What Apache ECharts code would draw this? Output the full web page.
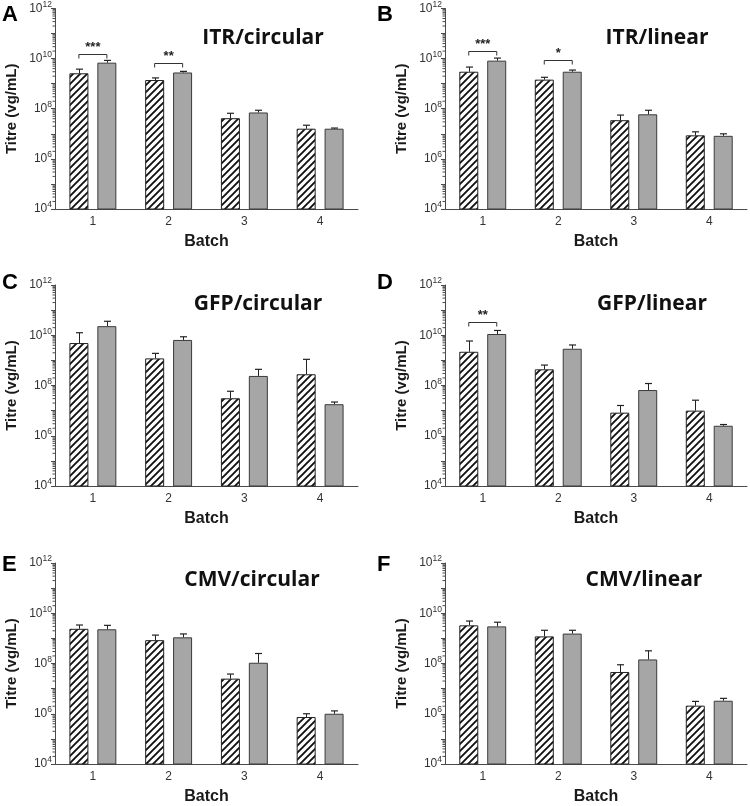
<!DOCTYPE html>
<html><head><meta charset="utf-8">
<script src="https://cdn.jsdelivr.net/npm/echarts@6/dist/echarts.min.js"></script>
<style>html,body{margin:0;padding:0;background:#fff}#c{width:750px;height:806px}</style>
</head><body><div id="c"></div>
<script>
// ---------- data ----------
const batches = ['1', '2', '3', '4'];
const panelLetters = ['A', 'B', 'C', 'D', 'E', 'F'];
const panelTitles = ['ITR/circular', 'ITR/linear', 'GFP/circular', 'GFP/linear', 'CMV/circular', 'CMV/linear'];
// hatched (white, striped) bars: mean titre per batch, one row per panel A..F
const hatchedMean = [
  [2.6e9, 1.4e9, 4.2e7, 1.6e7],
  [3.0e9, 1.45e9, 3.5e7, 8.7e6],
  [4.9e9, 1.2e9, 3.1e7, 2.8e8],
  [2.2e9, 4.4e8, 8.3e6, 1.0e7],
  [2.4e9, 8.5e8, 2.5e7, 7.4e5],
  [3.3e9, 1.2e9, 4.6e7, 2.1e6]
];
// hatched bars: top of error bar
const hatchedErrTop = [
  [3.8e9, 1.7e9, 6.6e7, 2.2e7],
  [4.6e9, 1.8e9, 5.6e7, 1.2e7],
  [1.26e10, 1.9e9, 5.9e7, 1.1e9],
  [5.9e9, 6.5e8, 1.6e7, 2.6e7],
  [3.4e9, 1.35e9, 3.8e7, 1.0e6],
  [4.9e9, 2.1e9, 8.9e7, 3.1e6]
];
// grey bars: mean titre per batch
const greyMean = [
  [6.9e9, 2.8e9, 7.1e7, 1.6e7],
  [8.3e9, 3.0e9, 6.0e7, 8.3e6],
  [2.3e10, 6.5e9, 2.4e8, 1.8e7],
  [1.12e10, 2.9e9, 6.6e7, 2.5e6],
  [2.3e9, 1.1e9, 1.07e8, 1.0e6],
  [3.0e9, 1.55e9, 1.45e8, 3.3e6]
];
// grey bars: top of error bar
const greyErrTop = [
  [8.5e9, 3.1e9, 8.7e7, 1.7e7],
  [1.05e10, 3.5e9, 8.7e7, 1.0e7],
  [3.6e10, 8.7e9, 4.4e8, 2.2e7],
  [1.55e10, 4.1e9, 1.2e8, 2.8e6],
  [3.3e9, 1.5e9, 2.5e8, 1.3e6],
  [4.4e9, 2.1e9, 3.2e8, 4.1e6]
];
// significance brackets: [panel index, batch index, bracket height, label]
const sigBrackets = [
  [0, 0, 1.5e10, '***'],
  [0, 1, 6.9e9, '**'],
  [1, 0, 2.0e10, '***'],
  [1, 1, 8.9e9, '*'],
  [3, 0, 3.4e10, '**']
];
// log-axis minor tick multiples and decades
const minorMultiples = [2, 3, 4, 5, 6, 7, 8, 9];
const minorDecades = [1e4, 1e5, 1e6, 1e7, 1e8, 1e9, 1e10, 1e11];

// ---------- layout ----------
const colLeft = [55, 445], colWidth = [303, 302], rowTop = [8, 285, 563], gridH = 201;
const titleX = [263, 657, 258, 652, 252, 644];
const titleY = [38, 38, 304, 304, 580, 580];
const letterX = [2, 377];
const letterY = [15, 282.5, 565];
const BAR_OFF = 14;
const AXC = '#4a4a4a';
const FONT = 'Liberation Sans';

function hatchCanvas() {
  const s = 7, cv = document.createElement('canvas');
  cv.width = s; cv.height = s;
  const g = cv.getContext('2d');
  g.fillStyle = '#fff'; g.fillRect(0, 0, s, s);
  g.strokeStyle = '#111'; g.lineWidth = 1.9; g.beginPath();
  g.moveTo(0, s); g.lineTo(s, 0);
  g.moveTo(-2, 2); g.lineTo(2, -2);
  g.moveTo(s - 2, s + 2); g.lineTo(s + 2, s - 2);
  g.stroke();
  return cv;
}
const hatch = hatchCanvas();

const minorVals = [];
minorDecades.forEach(d => minorMultiples.forEach(m => minorVals.push([0, m * d])));

const grid = [], xAxis = [], yAxis = [], series = [], graphic = [];
for (let p = 0; p < 6; p++) {
  const c = p % 2, r = Math.floor(p / 2);
  grid.push({ left: colLeft[c], top: rowTop[r], width: colWidth[c], height: gridH });
  xAxis.push({
    type: 'category', gridIndex: p, data: batches,
    name: 'Batch', nameLocation: 'middle', nameGap: 25,
    nameTextStyle: { fontFamily: FONT, fontWeight: 'bold', fontSize: 16, color: '#1a1a1a' },
    axisLine: { lineStyle: { color: AXC, width: 1 } },
    axisTick: { alignWithLabel: true, length: 4, lineStyle: { color: AXC } },
    axisLabel: { margin: 7, fontFamily: FONT, fontSize: 12, color: '#333' }
  });
  yAxis.push({
    type: 'log', gridIndex: p, logBase: 10, min: 1e4, max: 1e12, interval: 1,
    name: 'Titre (vg/mL)', nameLocation: 'middle', nameGap: 36,
    nameTextStyle: { fontFamily: FONT, fontWeight: 'bold', fontSize: 15, color: '#1a1a1a' },
    axisLine: { show: true, lineStyle: { color: AXC, width: 1 } },
    axisTick: { show: true, length: 4, lineStyle: { color: AXC } },
    splitLine: { show: false },
    axisLabel: {
      margin: 3,
      formatter: v => { const e = Math.round(Math.log10(v)); return e % 2 === 0 ? '{b|10}{s|' + e + '}' : ''; },
      rich: {
        b: { fontFamily: FONT, fontSize: 12, color: '#333', lineHeight: 17 },
        s: { fontFamily: FONT, fontSize: 8.5, color: '#333', lineHeight: 10, verticalAlign: 'top' }
      }
    }
  });
  series.push({
    type: 'bar', name: 'hatched', xAxisIndex: p, yAxisIndex: p, data: hatchedMean[p],
    barWidth: 19, barGap: '47%', clip: true,
    itemStyle: { color: { image: hatch, repeat: 'repeat' }, borderColor: '#222', borderWidth: 1 }
  });
  series.push({
    type: 'bar', name: 'grey', xAxisIndex: p, yAxisIndex: p, data: greyMean[p],
    barWidth: 19, barGap: '47%', clip: true,
    itemStyle: { color: '#a6a6a6', borderColor: '#3a3a3a', borderWidth: 1 }
  });
  const errData = [];
  for (let i = 0; i < 4; i++) {
    errData.push([i, hatchedMean[p][i], hatchedErrTop[p][i], -1]);
    errData.push([i, greyMean[p][i], greyErrTop[p][i], 1]);
  }
  series.push({
    type: 'custom', xAxisIndex: p, yAxisIndex: p, data: errData, z: 3,
    renderItem: (params, api) => {
      const i = api.value(0), side = api.value(3);
      const b = api.coord([i, api.value(1)]), t = api.coord([i, api.value(2)]);
      const x = Math.round(b[0] + side * BAR_OFF) + 0.5;
      return { type: 'group', children: [
        { type: 'line', shape: { x1: x, y1: b[1], x2: x, y2: t[1] }, style: { stroke: '#222', lineWidth: 1 } },
        { type: 'line', shape: { x1: x - 3.5, y1: t[1], x2: x + 3.5, y2: t[1] }, style: { stroke: '#222', lineWidth: 1.2 } }
      ] };
    }
  });
  series.push({
    type: 'custom', xAxisIndex: p, yAxisIndex: p, data: minorVals, z: 3, silent: true,
    renderItem: (params, api) => {
      const y = api.coord([0, api.value(1)])[1];
      const x = params.coordSys.x;
      return { type: 'line', shape: { x1: x - 2.5, y1: y, x2: x, y2: y }, style: { stroke: AXC, lineWidth: 1 } };
    }
  });
  const br = sigBrackets.filter(s => s[0] === p);
  if (br.length) {
    series.push({
      type: 'custom', xAxisIndex: p, yAxisIndex: p, z: 4,
      data: br.map(s => [s[1], s[2]]),
      renderItem: (params, api) => {
        const pt = api.coord([api.value(0), api.value(1)]);
        const x1 = pt[0] - BAR_OFF, x2 = pt[0] + BAR_OFF, y = Math.round(pt[1]) + 0.5;
        return { type: 'group', children: [
          { type: 'polyline', shape: { points: [[x1, y + 4], [x1, y], [x2, y], [x2, y + 4]] }, style: { stroke: '#333', lineWidth: 1, fill: null } },
          { type: 'text', x: pt[0], y: y - 1, style: { text: br[params.dataIndex][3], align: 'center', verticalAlign: 'bottom', textAlign: 'center', textVerticalAlign: 'bottom', fontFamily: FONT, fontWeight: 'bold', fontSize: 13, fill: '#222' } }
        ] };
      }
    });
  }
  graphic.push({ type: 'text', x: titleX[p], y: titleY[p], style: { text: panelTitles[p], align: 'center', verticalAlign: 'middle', textAlign: 'center', textVerticalAlign: 'middle', fontFamily: 'Open Sans', fontWeight: 'bold', fontSize: 21, fill: '#111' } });
  graphic.push({ type: 'text', x: letterX[c], y: letterY[r], style: { text: panelLetters[p], align: 'left', verticalAlign: 'middle', textAlign: 'left', textVerticalAlign: 'middle', fontFamily: FONT, fontWeight: 'bold', fontSize: 22, fill: '#000' } });
}

const chart = echarts.init(document.getElementById('c'), null, { renderer: 'canvas' });
chart.setOption({ animation: false, backgroundColor: '#fff', grid, xAxis, yAxis, series, graphic });
</script>
</body></html>
